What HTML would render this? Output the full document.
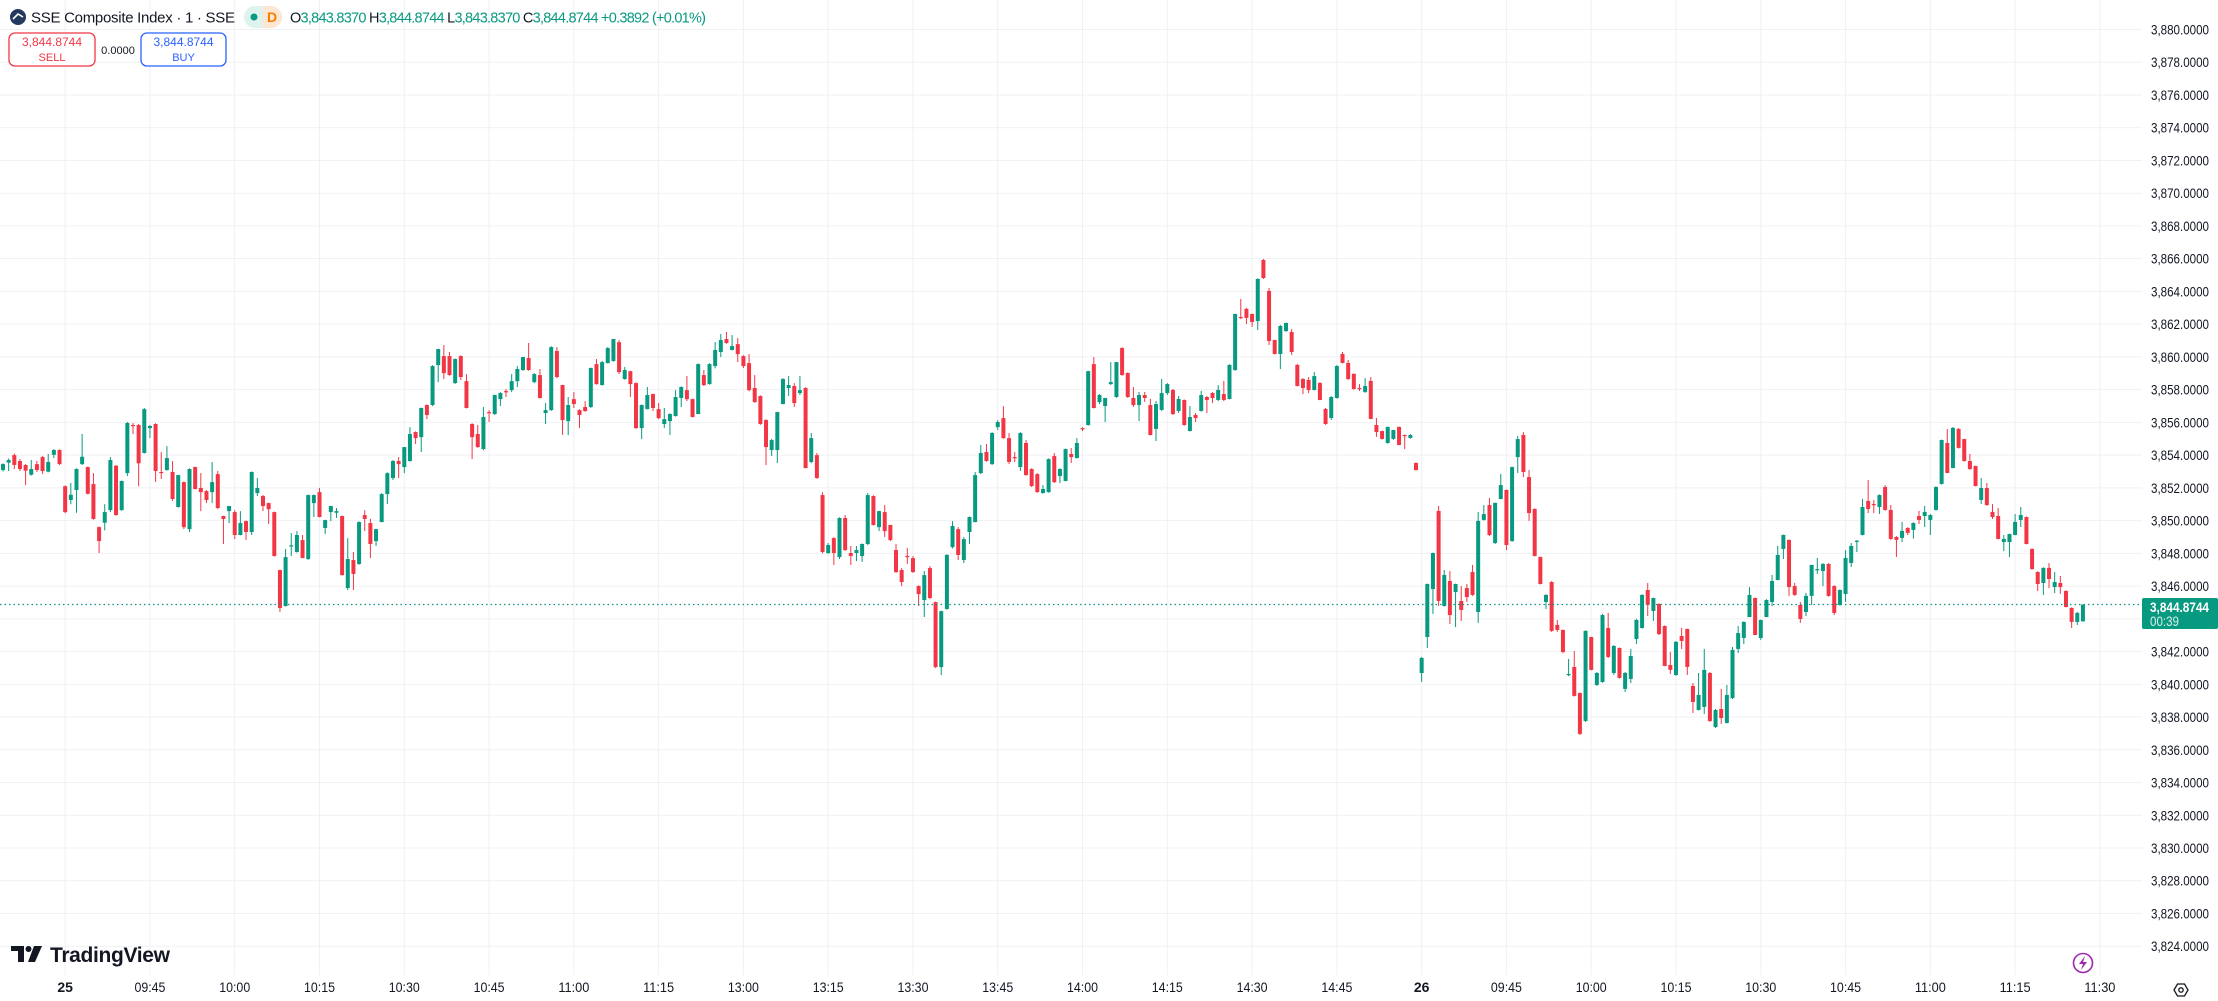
<!DOCTYPE html>
<html><head><meta charset="utf-8"><title>SSE Composite Index</title>
<style>
html,body{margin:0;padding:0;background:#fff;}
svg{display:block;font-family:"Liberation Sans",sans-serif;}
</style></head>
<body>
<svg id="chart" width="2218" height="1001" viewBox="0 0 2218 1001" xmlns="http://www.w3.org/2000/svg">
<rect x="0" y="0" width="2218" height="1001" fill="#ffffff"/>
<g id="grid"></g>
<g id="candles"></g>
<line id="priceLine" x1="0" x2="2142" stroke="#089981" stroke-width="1.2" stroke-dasharray="1.5 3"/>
<g id="yaxis"></g>
<g id="xaxis"></g>
<g id="lastBadge">
  <rect x="2142" y="598" width="76" height="31" rx="2" fill="#089981"/>
  <text x="2150" y="612" font-size="14" font-weight="bold" fill="#ffffff" textLength="59" lengthAdjust="spacingAndGlyphs">3,844.8744</text>
  <text x="2150" y="626" font-size="13.5" fill="#d7f0ea" textLength="29" lengthAdjust="spacingAndGlyphs">00:39</text>
</g>
<!-- header -->
<g>
  <circle cx="18" cy="17" r="8" fill="#23395d"/>
  <path d="M13 19 L18 14 L23 17" stroke="#ffffff" stroke-width="1.6" fill="none"/>
  <text x="31" y="22.5" font-size="15" fill="#131722" textLength="204">SSE Composite Index · 1 · SSE</text>
  <g>
    <rect x="244" y="6" width="38" height="22" rx="11" fill="#def2ee"/>
    <path d="M263 6 H271 A11 11 0 0 1 271 28 H263 Z" fill="#fde7d2"/>
    <circle cx="254" cy="17" r="3.5" fill="#089981"/>
    <text x="267" y="22" font-size="14" fill="#f57c00" font-weight="bold" textLength="9">D</text>
  </g>
  <text x="290" y="22.5" font-size="14.5" fill="#089981" textLength="416"><tspan fill="#131722">O</tspan>3,843.8370 <tspan fill="#131722">H</tspan>3,844.8744 <tspan fill="#131722">L</tspan>3,843.8370 <tspan fill="#131722">C</tspan>3,844.8744 +0.3892 (+0.01%)</text>
  <g>
    <rect x="9" y="33" width="86" height="33" rx="6" fill="#ffffff" stroke="#f23645" stroke-width="1.3"/>
    <text x="52" y="46" font-size="12" fill="#f23645" text-anchor="middle">3,844.8744</text>
    <text x="52" y="61" font-size="11" fill="#f23645" text-anchor="middle">SELL</text>
  </g>
  <text x="118" y="54" font-size="11" fill="#131722" text-anchor="middle">0.0000</text>
  <g>
    <rect x="141" y="33" width="85" height="33" rx="6" fill="#ffffff" stroke="#2962ff" stroke-width="1.3"/>
    <text x="183.5" y="46" font-size="12" fill="#2962ff" text-anchor="middle">3,844.8744</text>
    <text x="183.5" y="61" font-size="11" fill="#2962ff" text-anchor="middle">BUY</text>
  </g>
</g>
<g>
  <path d="M11 946 H24 V962 H18 V951 H11 Z" fill="#131722"/>
  <circle cx="28.5" cy="949" r="3" fill="#131722"/>
  <path d="M34 946 H42 L35 962 H28 Z" fill="#131722"/>
  <text x="50" y="962" font-size="21" font-weight="bold" fill="#131722" textLength="120">TradingView</text>
</g>
<g>
  <circle cx="2083" cy="963" r="9.5" fill="#fff" stroke="#9c27b0" stroke-width="1.6"/>
  <path d="M2085 956 L2079 964 H2083 L2081 970 L2087 962 H2083 Z" fill="#9c27b0"/>
</g>
<g>
  <path d="M2174 990 L2177.5 984 H2184.5 L2188 990 L2184.5 996 H2177.5 Z" fill="none" stroke="#131722" stroke-width="1.3"/>
  <circle cx="2181" cy="990" r="2.2" fill="none" stroke="#131722" stroke-width="1.3"/>
</g>
</svg>
<script>
const opens=[3853.09,3853.54,3854.0,3853.64,3853.4,3852.8,3853.45,3853.88,3852.99,3854.02,
3854.31,3852.1,3851.26,3851.87,3853.45,3853.27,3852.23,3849.6,3849.87,3850.64,
3853.35,3850.64,3852.9,3855.84,3855.84,3854.13,3855.65,3855.9,3852.97,3853.09,
3852.97,3850.83,3852.35,3849.48,3853.27,3851.99,3851.8,3851.74,3852.84,3850.28,
3850.58,3850.52,3849.12,3849.97,3849.3,3851.68,3851.5,3851.07,3850.52,3846.98,
3844.78,3848.45,3848.08,3848.81,3847.65,3851.07,3851.74,3849.55,3850.52,3850.48,
3850.28,3845.88,3847.59,3847.35,3850.34,3849.85,3848.75,3849.91,3851.62,3852.6,
3853.64,3853.27,3853.64,3855.41,3855.1,3857.06,3857.06,3859.5,3860.05,3860.05,
3858.4,3860.05,3858.52,3855.9,3855.29,3854.37,3856.63,3856.51,3857.42,3857.91,
3857.97,3858.52,3859.2,3859.93,3858.46,3858.89,3856.57,3856.75,3860.36,3858.28,
3856.08,3857.42,3856.75,3856.94,3856.94,3859.56,3858.28,3859.62,3859.75,3860.9,
3858.65,3859.13,3858.4,3855.65,3856.81,3857.73,3856.81,3855.9,3856.08,3856.39,
3857.49,3857.97,3857.42,3856.51,3858.89,3858.34,3859.44,3860.3,3861.09,3860.42,
3860.78,3860.05,3859.62,3858.1,3857.61,3856.14,3854.31,3854.31,3857.12,3858.1,
3858.22,3857.79,3858.1,3853.58,3854.0,3851.56,3848.02,3848.93,3847.77,3850.16,
3848.02,3848.02,3847.84,3848.57,3851.5,3849.6,3850.52,3849.73,3848.2,3846.98,
3847.84,3847.71,3846.0,3845.15,3847.1,3845.02,3841.05,3844.6,3848.38,3849.48,
3847.59,3849.3,3849.91,3852.9,3854.19,3853.45,3855.71,3856.26,3855.04,3853.88,
3853.27,3854.74,3853.15,3852.84,3851.68,3851.74,3853.94,3852.72,3852.42,3854.07,
3853.82,3855.65,3855.84,3859.56,3857.24,3857.0,3858.34,3857.55,3860.54,3859.02,
3857.49,3857.06,3857.67,3857.06,3855.6,3856.76,3857.79,3857.98,3856.7,3857.37,
3855.47,3856.45,3856.7,3857.55,3857.79,3857.37,3857.73,3857.43,3859.2,3862.44,
3862.93,3862.62,3862.19,3865.92,3864.03,3861.03,3860.18,3861.58,3861.52,3859.51,
3858.65,3858.59,3857.98,3858.41,3856.82,3856.27,3857.49,3860.18,3859.63,3858.96,
3858.1,3857.86,3858.53,3855.84,3855.47,3854.74,3854.99,3855.72,3855.23,3855.05,
3853.52,3840.69,3842.89,3845.82,3850.59,3844.78,3846.31,3845.64,3845.09,3845.88,
3846.86,3844.42,3850.04,3850.95,3848.63,3851.32,3851.87,3848.75,3853.88,3855.23,
3852.66,3850.71,3847.78,3845.03,3846.25,3843.63,3843.32,3840.57,3841.06,3839.47,
3837.76,3842.89,3839.96,3840.14,3843.44,3840.69,3842.22,3839.72,3840.33,3842.77,
3843.44,3845.76,3844.48,3844.91,3843.56,3841.18,3840.57,3842.95,3843.38,3839.9,
3838.43,3838.62,3840.69,3837.39,3838.49,3837.64,3839.16,3842.16,3842.83,3844.11,
3845.27,3842.83,3844.11,3845.03,3846.37,3848.27,3848.82,3846.0,3844.85,3844.42,
3845.4,3846.98,3846.92,3847.35,3846.0,3844.85,3845.52,3847.41,3848.73,3849.12,
3851.2,3851.01,3850.83,3852.05,3850.65,3849.0,3848.94,3849.55,3849.43,3850.28,
3850.28,3850.04,3850.65,3852.24,3854.74,3853.21,3855.6,3854.98,3853.64,3853.34,
3851.26,3851.99,3850.53,3850.28,3848.69,3848.69,3849.12,3850.04,3850.22,3848.27,
3846.86,3846.19,3847.11,3845.94,3846.19,3845.7,3844.66,3843.81,3843.84];
const highs=[3853.5,3853.8,3854.1,3853.76,3853.45,3853.7,3853.64,3853.95,3854.07,3854.37,
3854.35,3852.15,3852.3,3853.2,3855.29,3853.3,3852.9,3849.65,3851.0,3853.88,
3853.4,3852.45,3856.02,3855.96,3855.9,3856.88,3855.84,3855.95,3854.19,3854.55,
3853.64,3852.8,3852.4,3853.2,3853.3,3852.9,3851.87,3853.58,3853.03,3850.3,
3850.9,3850.64,3850.58,3850.0,3853.0,3852.6,3851.56,3851.1,3850.55,3847.0,
3848.26,3849.24,3849.36,3849.12,3851.6,3851.6,3851.99,3850.05,3850.9,3850.77,
3850.3,3848.93,3848.08,3849.95,3850.64,3850.1,3849.5,3851.68,3852.95,3853.7,
3853.88,3854.5,3855.71,3855.45,3856.9,3857.1,3859.5,3860.5,3860.72,3860.3,
3859.9,3860.1,3858.95,3855.95,3855.84,3856.94,3856.75,3857.7,3857.85,3858.04,
3858.95,3859.44,3860.0,3860.85,3859.01,3859.26,3857.18,3860.65,3860.6,3858.3,
3857.55,3857.85,3856.8,3857.3,3859.35,3859.87,3859.75,3860.6,3861.1,3861.03,
3859.38,3859.15,3858.45,3857.1,3858.16,3857.75,3857.18,3856.88,3856.55,3857.97,
3858.2,3858.83,3857.45,3859.6,3859.2,3859.62,3860.91,3861.4,3861.52,3861.33,
3861.15,3860.1,3860.17,3858.89,3857.65,3856.2,3855.0,3856.65,3858.7,3858.83,
3858.4,3858.83,3858.15,3855.35,3854.13,3851.74,3848.63,3849.0,3850.2,3850.34,
3848.45,3848.45,3848.6,3851.68,3851.55,3850.6,3850.95,3849.75,3848.57,3847.1,
3848.32,3847.84,3846.05,3846.92,3847.22,3845.05,3844.5,3847.95,3849.97,3849.6,
3848.99,3850.25,3852.97,3854.62,3854.68,3855.4,3856.14,3856.99,3855.35,3854.19,
3855.4,3854.92,3853.2,3852.9,3852.17,3853.8,3854.13,3853.2,3854.4,3854.43,
3855.04,3855.7,3859.15,3859.99,3857.73,3857.5,3859.68,3859.7,3860.6,3859.05,
3858.16,3857.86,3857.86,3857.43,3857.31,3858.65,3858.4,3858.04,3857.61,3857.4,
3857.0,3856.57,3857.92,3857.61,3857.85,3858.28,3858.53,3859.55,3862.65,3863.54,
3863.0,3862.65,3864.8,3865.98,3864.21,3861.05,3861.95,3862.1,3861.7,3859.57,
3858.7,3858.77,3859.08,3858.45,3856.88,3857.6,3859.5,3860.3,3859.81,3859.0,
3858.34,3858.71,3858.77,3856.27,3855.5,3855.75,3855.55,3855.75,3855.25,3855.29,
3853.55,3841.67,3846.15,3848.05,3850.89,3846.98,3846.92,3846.15,3846.0,3846.13,
3847.29,3850.53,3850.95,3851.38,3851.1,3852.85,3851.9,3853.3,3855.17,3855.41,
3853.09,3850.75,3847.8,3845.5,3846.3,3843.93,3843.35,3841.55,3842.03,3839.5,
3843.3,3842.9,3840.75,3844.3,3844.36,3842.4,3842.25,3840.75,3842.16,3844.0,
3845.5,3846.19,3845.3,3844.95,3843.6,3841.97,3842.65,3843.44,3843.4,3840.08,
3840.69,3842.16,3840.75,3838.5,3839.72,3839.96,3842.28,3843.56,3843.85,3845.94,
3845.3,3843.95,3845.2,3846.68,3848.45,3849.15,3848.85,3846.19,3845.03,3845.58,
3847.3,3847.72,3847.4,3847.4,3846.05,3845.8,3848.2,3848.63,3848.81,3851.32,
3852.48,3851.26,3851.6,3852.17,3850.95,3849.05,3849.92,3849.6,3849.9,3850.59,
3850.89,3850.4,3852.1,3854.95,3855.6,3855.72,3855.65,3855.0,3854.07,3853.35,
3852.6,3852.3,3851.01,3850.77,3849.12,3849.2,3850.4,3850.83,3850.25,3848.3,
3846.9,3847.15,3847.41,3846.86,3846.62,3845.75,3844.7,3844.42,3844.87];
const lows=[3853.0,3853.03,3853.15,3853.03,3852.17,3852.75,3852.97,3852.85,3852.95,3853.82,
3853.4,3850.45,3851.0,3850.48,3853.4,3851.6,3850.05,3848.02,3849.4,3850.52,
3850.3,3850.6,3852.72,3855.29,3852.1,3854.1,3855.04,3852.36,3852.54,3853.05,
3851.2,3850.8,3849.48,3849.3,3851.9,3850.58,3851.07,3851.07,3850.7,3848.57,
3849.85,3848.87,3849.1,3848.81,3849.12,3851.5,3850.58,3849.79,3847.8,3844.42,
3844.75,3847.84,3848.05,3847.7,3847.6,3850.22,3850.2,3849.18,3849.97,3850.16,
3846.65,3845.76,3845.76,3847.3,3849.36,3847.71,3848.45,3849.9,3851.01,3852.48,
3852.6,3852.9,3853.6,3854.68,3854.19,3856.2,3857.0,3858.46,3858.65,3858.85,
3858.35,3858.59,3856.85,3853.76,3854.45,3854.3,3856.02,3856.45,3857.0,3857.55,
3857.85,3858.16,3859.15,3859.15,3858.4,3857.45,3855.9,3856.7,3858.7,3855.23,
3855.23,3856.88,3855.65,3856.65,3856.88,3858.3,3858.25,3859.6,3859.7,3858.95,
3858.6,3857.55,3855.6,3854.98,3856.8,3856.69,3856.2,3855.65,3855.23,3856.35,
3856.94,3857.3,3856.3,3856.5,3858.22,3858.3,3859.3,3859.99,3860.8,3860.4,
3859.68,3859.32,3857.9,3857.2,3855.85,3853.39,3853.94,3853.52,3857.1,3857.61,
3856.94,3857.67,3853.2,3853.5,3852.55,3848.0,3847.96,3847.29,3847.65,3848.15,
3847.29,3847.53,3847.47,3848.5,3849.7,3849.36,3849.0,3848.75,3846.8,3846.0,
3847.35,3846.8,3844.78,3844.11,3845.2,3841.0,3840.57,3844.55,3848.3,3847.59,
3847.41,3848.57,3849.9,3852.85,3853.6,3853.4,3855.53,3855.0,3853.45,3853.58,
3853.03,3852.75,3852.05,3851.7,3851.65,3851.7,3852.3,3852.29,3852.4,3853.52,
3853.8,3855.47,3855.8,3856.85,3857.12,3856.02,3858.28,3857.5,3858.85,3857.49,
3856.94,3856.08,3857.25,3855.2,3854.86,3856.7,3857.67,3856.45,3856.57,3855.8,
3855.45,3856.02,3856.65,3856.57,3857.18,3857.3,3857.3,3857.4,3859.15,3862.31,
3862.01,3861.83,3861.64,3864.76,3860.73,3860.15,3859.26,3861.52,3860.12,3858.2,
3857.73,3857.79,3857.95,3857.35,3855.85,3856.15,3857.45,3859.6,3858.59,3858.0,
3857.92,3857.8,3856.2,3855.11,3854.95,3854.7,3854.93,3854.6,3854.37,3855.0,
3853.05,3840.14,3842.22,3844.3,3844.78,3844.75,3843.68,3843.5,3843.87,3845.03,
3845.4,3843.75,3850.0,3849.06,3848.57,3851.3,3848.2,3848.7,3852.91,3852.66,
3849.98,3847.8,3846.1,3844.6,3843.2,3843.2,3841.9,3840.5,3839.25,3836.9,
3837.7,3840.85,3839.9,3840.1,3841.6,3840.57,3840.35,3839.53,3840.08,3842.46,
3843.4,3844.17,3843.87,3843.0,3841.1,3840.63,3840.51,3842.16,3840.57,3838.25,
3838.4,3838.19,3837.7,3837.33,3837.58,3837.6,3839.1,3841.91,3842.46,3844.1,
3843.0,3842.71,3844.1,3844.78,3846.35,3847.65,3845.4,3845.4,3843.75,3844.17,
3844.85,3846.74,3846.0,3845.35,3844.23,3844.8,3845.03,3847.17,3848.08,3849.1,
3850.46,3850.46,3850.4,3850.6,3848.82,3847.78,3848.69,3849.12,3848.9,3849.79,
3849.61,3849.12,3850.6,3852.2,3852.9,3853.2,3854.4,3853.6,3853.1,3852.1,
3851.01,3850.9,3850.1,3848.85,3848.14,3847.78,3849.1,3849.61,3848.55,3847.0,
3845.7,3845.46,3845.88,3845.58,3845.52,3844.7,3843.44,3843.62,3843.84];
const closes=[3853.45,3853.7,3853.4,3853.15,3853.05,3853.15,3853.09,3853.03,3853.58,3854.31,
3853.45,3850.52,3851.58,3853.15,3853.9,3851.64,3850.1,3848.75,3850.52,3853.7,
3850.34,3852.42,3855.96,3855.78,3853.5,3856.81,3855.78,3853.03,3852.93,3853.82,
3851.32,3852.78,3849.6,3853.15,3851.93,3851.74,3851.26,3852.35,3850.77,3850.1,
3850.89,3849.12,3849.85,3849.3,3852.97,3851.99,3850.89,3850.7,3847.84,3844.66,
3847.77,3848.49,3849.12,3847.71,3851.56,3851.56,3850.22,3850.03,3850.89,3850.58,
3846.67,3847.65,3846.74,3849.91,3850.1,3848.57,3849.48,3851.62,3852.9,3853.64,
3853.45,3854.49,3855.29,3855.04,3856.88,3856.45,3859.44,3860.48,3859.01,3858.89,
3859.87,3858.77,3856.88,3855.1,3854.49,3856.33,3856.59,3857.67,3857.79,3857.87,
3858.52,3859.26,3859.99,3859.2,3858.95,3857.49,3856.75,3860.6,3858.77,3856.14,
3857.06,3857.12,3856.45,3856.69,3859.32,3858.34,3859.68,3860.54,3861.09,3859.07,
3859.2,3858.34,3855.65,3857.06,3857.67,3856.88,3856.26,3856.2,3856.51,3857.55,
3858.16,3857.42,3856.33,3859.56,3858.28,3859.56,3860.42,3861.03,3860.85,3860.66,
3860.17,3859.44,3857.97,3857.24,3855.9,3854.49,3854.92,3856.63,3858.65,3858.28,
3857.18,3857.97,3853.21,3855.04,3852.6,3848.08,3848.51,3848.02,3850.16,3848.2,
3847.84,3848.2,3848.57,3851.56,3849.73,3850.58,3849.36,3848.81,3846.86,3846.25,
3847.8,3846.86,3845.51,3846.67,3845.27,3841.05,3844.47,3847.9,3849.67,3847.9,
3848.87,3850.22,3852.78,3854.13,3853.64,3855.35,3856.02,3855.04,3853.58,3853.84,
3855.35,3852.78,3852.11,3851.74,3851.93,3853.76,3852.35,3853.15,3854.37,3853.88,
3854.74,3855.59,3859.13,3856.88,3857.67,3857.49,3858.46,3859.68,3858.89,3857.55,
3857.06,3857.67,3857.49,3855.23,3857.12,3857.79,3858.34,3856.51,3857.43,3855.84,
3856.33,3856.27,3857.67,3857.37,3857.49,3857.98,3857.37,3859.51,3862.62,3862.38,
3862.38,3862.13,3864.76,3864.82,3860.97,3860.18,3861.89,3862.07,3860.3,3858.22,
3858.1,3857.98,3858.83,3857.37,3855.9,3857.55,3859.44,3859.63,3858.65,3858.04,
3858.06,3858.22,3856.21,3855.41,3854.99,3855.72,3855.53,3854.62,3855.19,3855.23,
3853.09,3841.61,3846.13,3848.02,3845.09,3846.68,3844.23,3846.13,3844.54,3845.33,
3845.46,3849.98,3850.4,3849.12,3851.08,3852.17,3848.51,3853.27,3854.98,3852.97,
3850.46,3847.84,3846.13,3845.46,3843.26,3843.32,3841.97,3840.63,3839.29,3836.97,
3843.26,3840.88,3840.69,3844.23,3841.67,3842.34,3840.39,3840.69,3841.73,3843.93,
3845.46,3844.85,3845.27,3843.07,3841.12,3840.88,3842.59,3842.65,3841.06,3838.92,
3839.35,3840.88,3837.76,3838.43,3837.94,3839.35,3842.1,3843.13,3843.81,3845.46,
3843.01,3843.93,3845.15,3846.31,3847.9,3849.12,3845.94,3845.46,3843.99,3845.4,
3847.29,3847.04,3847.35,3845.4,3844.36,3845.76,3847.72,3848.45,3848.77,3850.83,
3850.71,3850.95,3851.56,3850.65,3848.88,3848.82,3849.37,3849.25,3849.85,3850.04,
3850.53,3850.34,3852.05,3854.92,3852.91,3855.66,3854.44,3853.64,3853.15,3852.11,
3851.99,3850.95,3850.22,3848.88,3848.88,3849.18,3849.92,3850.34,3848.57,3847.04,
3846.13,3847.11,3846.43,3846.25,3845.94,3844.72,3843.81,3844.36,3844.87];
const priceTicks=[3824,3826,3828,3830,3832,3834,3836,3838,3840,3842,3844,3846,3848,3850,3852,3854,3856,3858,3860,3862,3864,3866,3868,3870,3872,3874,3876,3878,3880];
const timeLabels=["25","09:45","10:00","10:15","10:30","10:45","11:00","11:15","13:00","13:15","13:30","13:45","14:00","14:15","14:30","14:45","26","09:45","10:00","10:15","10:30","10:45","11:00","11:15","11:30"];
const timeLabelIndex=[11,26,41,56,71,86,101,116,131,146,161,176,191,206,221,236,251,266,281,296,311,326,341,356,371];
const lastPrice=3844.8744;

const NS="http://www.w3.org/2000/svg";
const PLOT_RIGHT=2142, PLOT_BOTTOM=975;
function yOf(p){return 29.5+(3880-p)*16.37;}
function xOf(i){return 3+i*5.652;}
function mk(tag,attrs,parent){const e=document.createElementNS(NS,tag);for(const k in attrs)e.setAttribute(k,attrs[k]);parent.appendChild(e);return e;}

const grid=document.getElementById('grid');
priceTicks.forEach(v=>{
  const l=mk('line',{x1:0,x2:PLOT_RIGHT,y1:yOf(v),y2:yOf(v),stroke:'#f0f1f4','stroke-width':1},grid);
  
  
});
timeLabelIndex.forEach(i=>{
  const x=xOf(i);
  const l=mk('line',{x1:x,x2:x,y1:0,y2:PLOT_BOTTOM,stroke:'#f0f1f4','stroke-width':1},grid);
  
  
});

const yaxis=document.getElementById('yaxis');
priceTicks.forEach(v=>{
  const t=mk('text',{x:2151,y:yOf(v)+5,'font-size':14,fill:'#131722',textLength:58,lengthAdjust:'spacingAndGlyphs'},yaxis);
  t.textContent=v.toLocaleString('en-US',{minimumFractionDigits:4,maximumFractionDigits:4});
  
  
});

const xaxis=document.getElementById('xaxis');
timeLabels.forEach((s,k)=>{
  const bold=(s==="25"||s==="26");
  const attrs={x:xOf(timeLabelIndex[k]),y:992,'font-size':14,fill:'#131722','text-anchor':'middle','font-weight':bold?'bold':'normal'};
  if(!bold){attrs.textLength=31;attrs.lengthAdjust='spacingAndGlyphs';}
  const t=mk('text',attrs,xaxis);
  t.textContent=s;
  
  
});

const cg=document.getElementById('candles');
for(let i=0;i<closes.length;i++){
  const o=opens[i],c=closes[i];
  const h=Math.max(highs[i],o,c),l=Math.min(lows[i],o,c);
  const up=c>=o;
  const col=up?'#089981':'#f23645';
  const x=xOf(i);
  const g=mk('g',{},cg);
  
  
  mk('rect',{x:x-0.5,y:yOf(h),width:1,height:Math.max(1,yOf(l)-yOf(h)),fill:col},g);
  const top=yOf(Math.max(o,c)),bot=yOf(Math.min(o,c));
  mk('rect',{x:x-2,y:top,width:4,height:Math.max(1.2,bot-top),fill:col},g);
}
const pl=document.getElementById('priceLine');
pl.setAttribute('y1',yOf(lastPrice));
pl.setAttribute('y2',yOf(lastPrice));
</script>
</body></html>
